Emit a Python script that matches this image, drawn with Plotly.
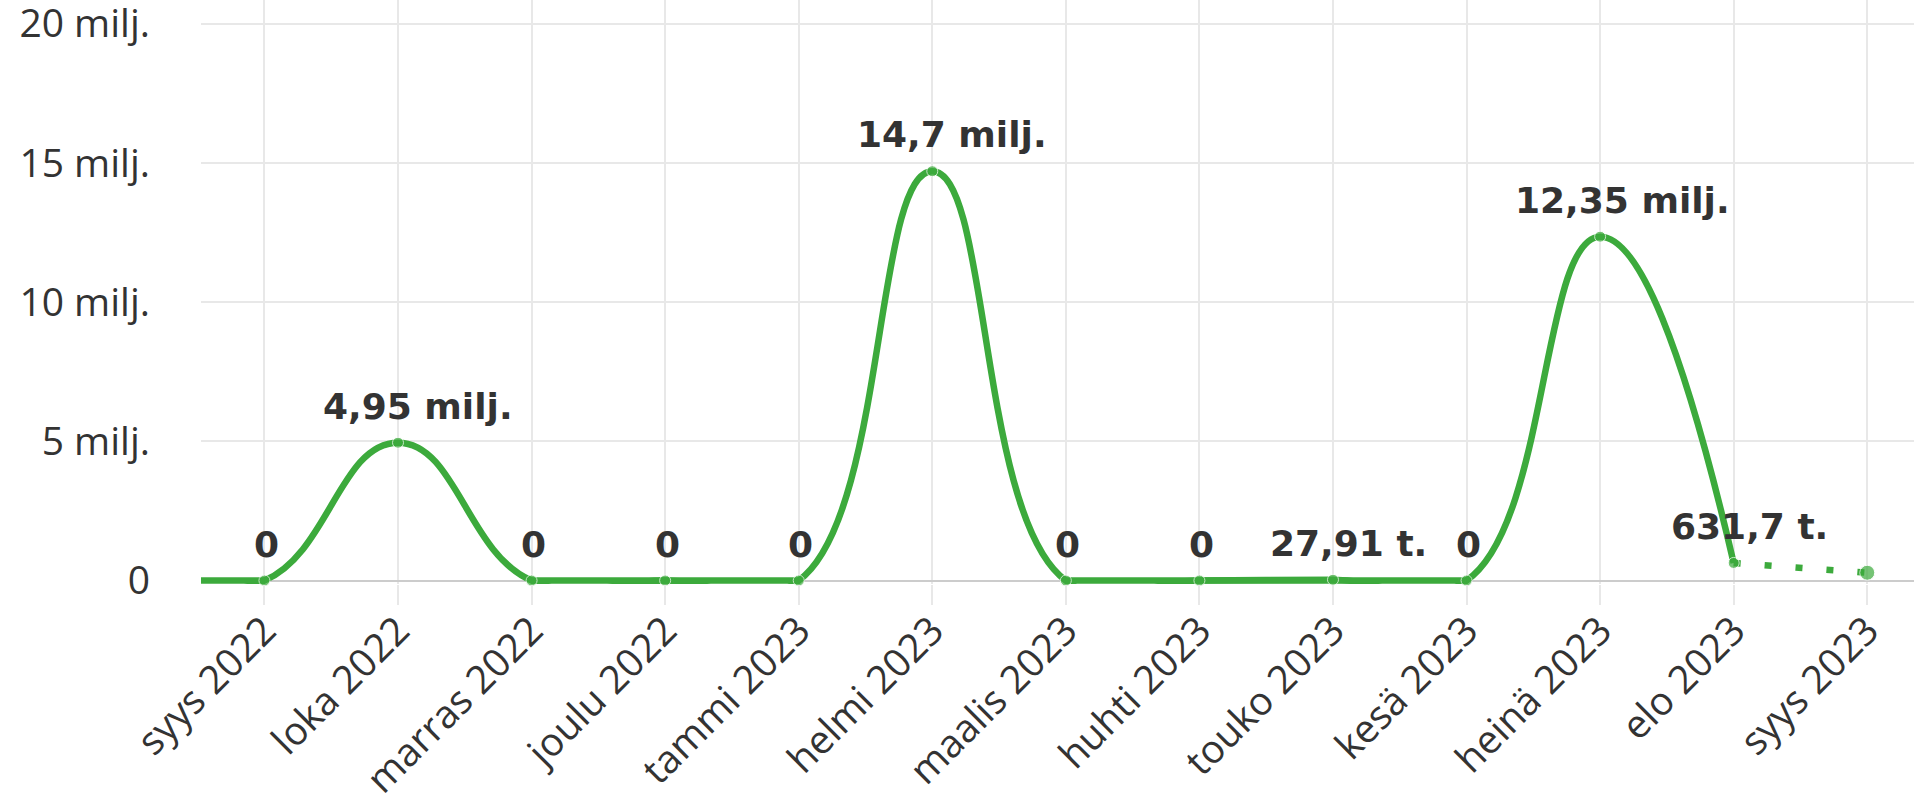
import plotly.graph_objects as go

# ---- data ----
months = ["elo 2022", "syys 2022", "loka 2022", "marras 2022", "joulu 2022",
          "tammi 2023", "helmi 2023", "maalis 2023", "huhti 2023", "touko 2023",
          "kesä 2023", "heinä 2023", "elo 2023", "syys 2023"]
values = [0, 0, 4950000, 0, 0, 0, 14700000, 0, 0, 27910, 0, 12350000, 631700, 280000]
point_labels = ["", "0", "4,95 milj.", "0", "0", "0", "14,7 milj.", "0", "0",
                "27,91 t.", "0", "12,35 milj.", "631,7 t.", ""]
y_tickvals = [0, 5000000, 10000000, 15000000, 20000000]
y_ticktext = ["0", "5 milj.", "10 milj.", "15 milj.", "20 milj."]

GREEN = "#3caa3c"
TXT = "#333333"
LW = 6.5

fig = go.Figure()

# smoothed line (complete months)
fig.add_trace(go.Scatter(
    x=months[:13], y=values[:13], mode="lines",
    line=dict(color=GREEN, width=LW, shape="spline", smoothing=1.3),
    hoverinfo="skip", showlegend=False))

# flat stretches drawn straight so they stay on the zero level
flat_y = [v if v < 100000 else None for v in values[:13]]
fig.add_trace(go.Scatter(
    x=months[:13], y=flat_y, mode="lines", connectgaps=False,
    line=dict(color=GREEN, width=LW),
    hoverinfo="skip", showlegend=False))

# dotted line to the current (incomplete) month
fig.add_trace(go.Scatter(
    x=months[12:], y=values[12:], mode="lines",
    line=dict(color=GREEN, width=LW, dash="7px,24px"),
    hoverinfo="skip", showlegend=False))

# markers
sizes = [11] * (len(months) - 2) + [15]
fig.add_trace(go.Scatter(
    x=months[1:], y=values[1:], mode="markers",
    marker=dict(color=GREEN, size=sizes),
    cliponaxis=False, showlegend=False, hoverinfo="skip"))

# data labels
for m, v, lbl in zip(months, values, point_labels):
    if not lbl:
        continue
    fig.add_annotation(
        x=m, y=v, text=lbl, showarrow=False,
        xanchor="center", yanchor="bottom",
        yshift=14, xshift=2 * len(lbl),
        font=dict(family="DejaVu Sans", size=36, color=TXT, weight="bold"))

fig.update_layout(
    width=1914, height=795,
    margin=dict(l=201, r=0, t=0, b=211, autoexpand=False),
    paper_bgcolor="white", plot_bgcolor="white",
    font=dict(family="Open Sans", color=TXT),
    showlegend=False,
)

fig.update_xaxes(
    type="category", categoryorder="array", categoryarray=months,
    range=[0.525, 13.35], automargin=False,
    showgrid=True, gridcolor="#e8e8e8", gridwidth=2,
    ticks="outside", ticklen=20, tickwidth=2, tickcolor="#e8e8e8",
    tickangle=-45, tickfont=dict(family="Open Sans", size=39, color=TXT),
    ticklabeloverflow="allow", ticklabelstandoff=-13,
    showline=False, zeroline=False,
)

fig.update_yaxes(
    range=[-125000, 20850000], automargin=False,
    tickvals=y_tickvals, ticktext=y_ticktext,
    showgrid=True, gridcolor="#e8e8e8", gridwidth=2,
    zeroline=True, zerolinecolor="#cccccc", zerolinewidth=2,
    ticks="", ticklabelstandoff=50, ticklabeloverflow="allow",
    tickfont=dict(family="Open Sans", size=39, color=TXT),
    showline=False,
)

fig.write_html(
    "out.html",
    config={"displayModeBar": False},
    post_script="document.body.style.margin='0';document.body.style.overflow='hidden';",
)
